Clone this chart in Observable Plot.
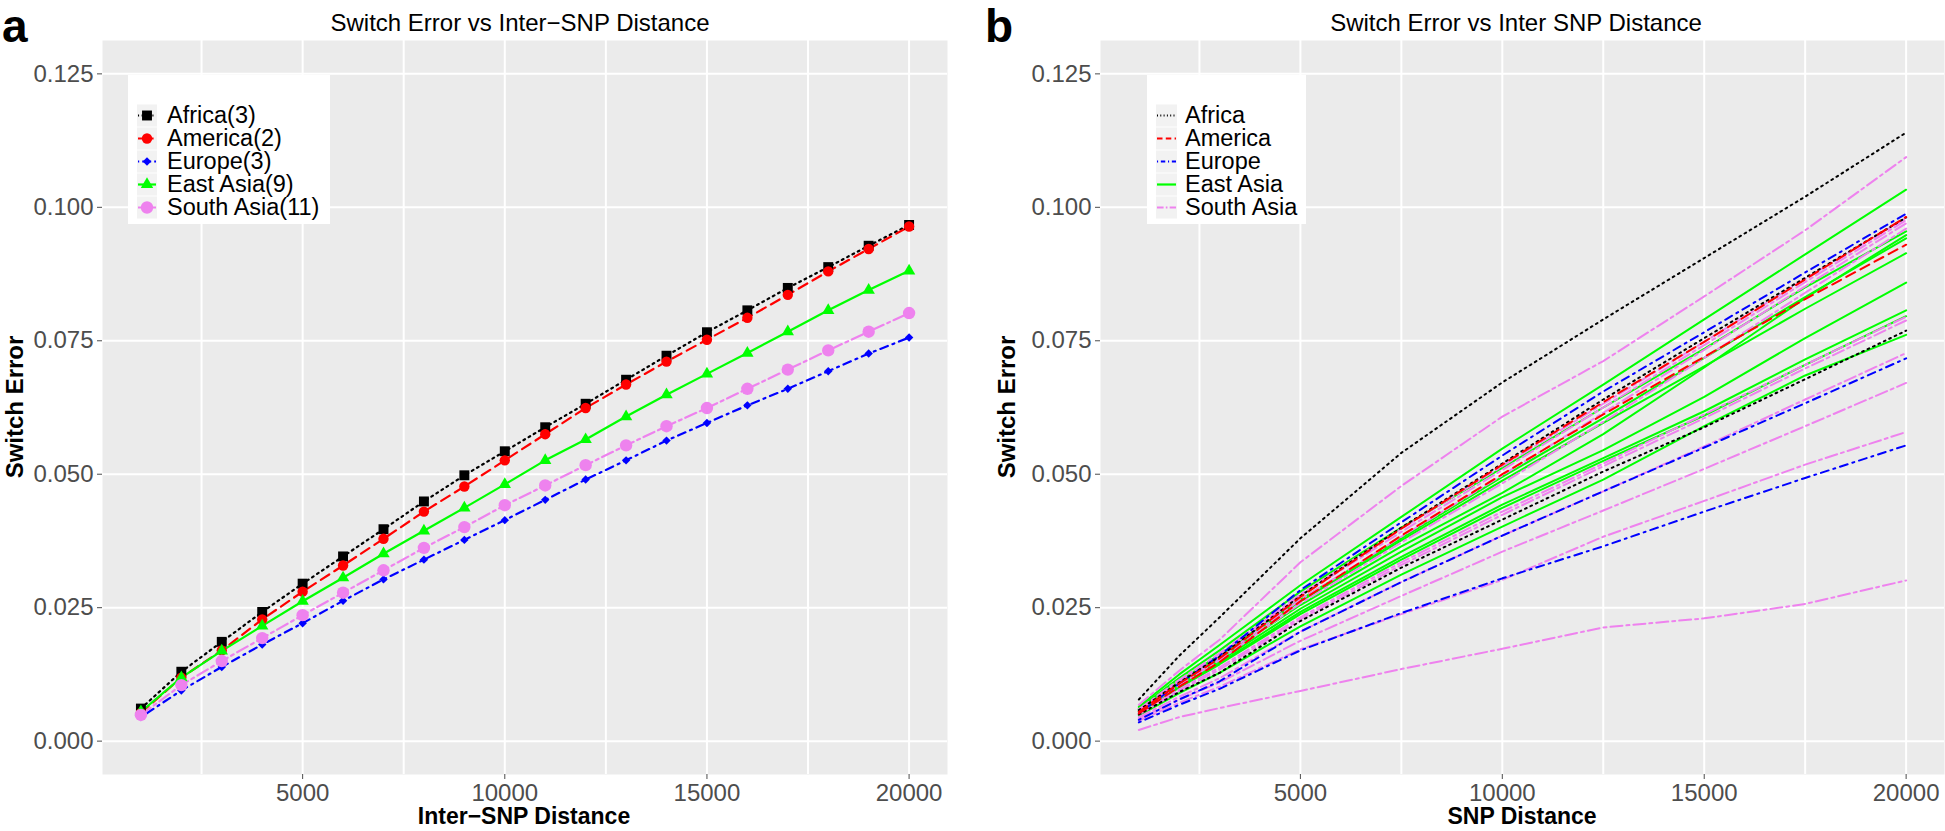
<!DOCTYPE html>
<html><head><meta charset="utf-8">
<script src="https://cdn.jsdelivr.net/npm/d3@7"></script>
<script src="https://cdn.jsdelivr.net/npm/@observablehq/plot@0.6"></script>
<style>
body{margin:0;background:#fff;font-family:"Liberation Sans",Arial,sans-serif;}
#root{position:relative;width:1945px;height:831px;overflow:hidden;background:#fff;}
.abs{position:absolute;white-space:nowrap;line-height:1.15;}
.tag{font-weight:bold;font-size:46px;color:#000;}
.title{font-size:24px;color:#000;transform:translate(-50%,-50%);}
.xlab{font-size:23px;font-weight:bold;color:#000;transform:translate(-50%,-50%);}
.ylab{font-size:24px;font-weight:bold;color:#000;transform:translate(-50%,-50%) rotate(-90deg);}
.legend{position:absolute;background:#fff;}
.lrow{position:absolute;height:23px;display:flex;align-items:center;font-size:24px;color:#000;white-space:nowrap;}
</style>
</head><body>
<div id="root"></div>
<script>
// ---------- Data: panel a (mean switch error per region) ----------
const distA = [1000,2000,3000,4000,5000,6000,7000,8000,9000,10000,11000,12000,13000,14000,15000,16000,17000,18000,19000,20000];
const africaA    = [0.0061,0.0130,0.0186,0.0242,0.0295,0.0346,0.0397,0.0449,0.0498,0.0543,0.0588,0.0632,0.0677,0.0722,0.0766,0.0807,0.0849,0.0888,0.0928,0.0967];
const americaA   = [0.0053,0.0119,0.0170,0.0228,0.0280,0.0329,0.0379,0.0430,0.0477,0.0526,0.0575,0.0624,0.0668,0.0711,0.0752,0.0793,0.0836,0.0880,0.0922,0.0964];
const europeA    = [0.0045,0.0095,0.0139,0.0181,0.0221,0.0263,0.0303,0.0340,0.0377,0.0414,0.0452,0.0490,0.0526,0.0563,0.0596,0.0629,0.0660,0.0693,0.0726,0.0756];
const eastAsiaA  = [0.0055,0.0119,0.0169,0.0216,0.0262,0.0306,0.0351,0.0394,0.0437,0.0481,0.0526,0.0565,0.0608,0.0649,0.0688,0.0727,0.0767,0.0807,0.0845,0.0881];
const southAsiaA = [0.0049,0.0105,0.0150,0.0193,0.0236,0.0278,0.0320,0.0362,0.0401,0.0442,0.0479,0.0517,0.0554,0.0590,0.0624,0.0660,0.0696,0.0732,0.0767,0.0802];
const legendA = ["Africa(3)","America(2)","Europe(3)","East Asia(9)","South Asia(11)"];

// ---------- Data: panel b (one line per population) ----------
const distB = [1000,2000,3000,5000,7500,10000,12500,15000,17500,20000];
const africaB = [
 [0.0078,0.0160,0.0232,0.0380,0.0540,0.0672,0.0790,0.0905,0.1020,0.1140],
 [0.0058,0.0110,0.0158,0.0272,0.0400,0.0520,0.0640,0.0755,0.0868,0.0981],
 [0.0050,0.0092,0.0128,0.0225,0.0325,0.0415,0.0505,0.0588,0.0678,0.0769]
];
const americaB = [
 [0.0055,0.0108,0.0155,0.0270,0.0398,0.0518,0.0635,0.0748,0.0865,0.0982],
 [0.0052,0.0102,0.0148,0.0262,0.0385,0.0500,0.0612,0.0720,0.0828,0.0930]
];
const europeB = [
 [0.0052,0.0108,0.0160,0.0283,0.0410,0.0535,0.0655,0.0766,0.0878,0.0988],
 [0.0040,0.0078,0.0112,0.0205,0.0298,0.0385,0.0468,0.0550,0.0633,0.0717],
 [0.0035,0.0068,0.0098,0.0170,0.0240,0.0305,0.0365,0.0430,0.0493,0.0554]
];
const eastAsiaB = [
 [0.0065,0.0125,0.0180,0.0292,0.0420,0.0548,0.0668,0.0790,0.0912,0.1033],
 [0.0062,0.0118,0.0170,0.0280,0.0400,0.0512,0.0625,0.0735,0.0850,0.0955],
 [0.0058,0.0108,0.0155,0.0255,0.0365,0.0465,0.0575,0.0700,0.0830,0.0948],
 [0.0060,0.0112,0.0162,0.0265,0.0380,0.0495,0.0605,0.0718,0.0832,0.0942],
 [0.0058,0.0110,0.0160,0.0262,0.0376,0.0488,0.0596,0.0702,0.0810,0.0914],
 [0.0056,0.0105,0.0150,0.0248,0.0355,0.0457,0.0545,0.0645,0.0755,0.0859],
 [0.0055,0.0102,0.0146,0.0242,0.0345,0.0443,0.0530,0.0618,0.0715,0.0807],
 [0.0054,0.0100,0.0144,0.0238,0.0340,0.0437,0.0525,0.0610,0.0705,0.0796],
 [0.0048,0.0090,0.0128,0.0215,0.0312,0.0402,0.0490,0.0590,0.0685,0.0761]
];
const southAsiaB = [
 [0.0068,0.0132,0.0190,0.0335,0.0478,0.0608,0.0712,0.0833,0.0957,0.1094],
 [0.0060,0.0115,0.0165,0.0275,0.0398,0.0515,0.0632,0.0748,0.0866,0.0980],
 [0.0058,0.0112,0.0162,0.0272,0.0392,0.0508,0.0625,0.0742,0.0860,0.0976],
 [0.0056,0.0108,0.0156,0.0265,0.0383,0.0498,0.0615,0.0733,0.0852,0.0970],
 [0.0055,0.0105,0.0152,0.0258,0.0372,0.0483,0.0598,0.0718,0.0840,0.0960],
 [0.0052,0.0097,0.0138,0.0232,0.0335,0.0430,0.0520,0.0612,0.0705,0.0795],
 [0.0050,0.0094,0.0134,0.0228,0.0330,0.0424,0.0515,0.0605,0.0698,0.0788],
 [0.0045,0.0083,0.0118,0.0205,0.0298,0.0385,0.0468,0.0552,0.0640,0.0727],
 [0.0042,0.0078,0.0110,0.0188,0.0272,0.0355,0.0432,0.0510,0.0590,0.0671],
 [0.0038,0.0072,0.0102,0.0172,0.0238,0.0302,0.0383,0.0450,0.0518,0.0579],
 [0.0021,0.0045,0.0062,0.0094,0.0135,0.0173,0.0213,0.0230,0.0257,0.0301]
];
const legendB = ["Africa","America","Europe","East Asia","South Asia"];

const yTicks = [0,0.025,0.05,0.075,0.1,0.125];
const xTicks = [5000,10000,15000,20000];
const xGrid = [2500,5000,7500,10000,12500,15000,17500,20000];

// ---------- Styles ----------
const sty = {
  africa:   {color:"#000000", dashA:"1.8,4.2", dashB:"1.8,4.2", symbol:"square", r:5.6},
  america:  {color:"#FF0000", dashA:"10,6",   dashB:"10,6",   symbol:"circle", r:5.2},
  europe:   {color:"#0000FF", dashA:"2,5,8,5", dashB:"2,5,8,5", symbol:"diamond2", r:3.8},
  eastAsia: {color:"#00FF00", dashA:null,     dashB:null,     symbol:"triangle", r:4.6},
  southAsia:{color:"#EE82EE", dashA:"12,4,3,4", dashB:"12,4,3,4", symbol:"circle", r:6.2}
};
const keysOrder = ["africa","america","europe","eastAsia","southAsia"];

const toRows = (xs, ys, id) => xs.map((x,i)=>({x, y: ys[i], id}));

const root = document.getElementById("root");
function addDiv(cls, text, left, top) {
  const d = document.createElement("div");
  d.className = "abs " + cls;
  d.textContent = text;
  d.style.left = left + "px"; d.style.top = top + "px";
  root.appendChild(d);
  return d;
}

const font = '"Liberation Sans", Arial, sans-serif';
function basePlot(width, marginLeft, marginRight, marks) {
  return Plot.plot({
    width, height: 831,
    marginLeft, marginRight, marginTop: 40, marginBottom: 57,
    style: {background:"transparent", fontFamily: font, fontSize:"24px", color:"#4d4d4d", overflow:"visible"},
    x: {domain:[50,20950], label:null},
    y: {domain:[-0.00625,0.13125], label:null},
    marks: [
      Plot.frame({fill:"#EBEBEB", stroke:"none"}),
      Plot.gridX({ticks: xGrid, stroke:"white", strokeOpacity:1, strokeWidth:2}),
      Plot.gridY({ticks: yTicks, stroke:"white", strokeOpacity:1, strokeWidth:2}),
      ...marks,
      Plot.axisX({ticks: xTicks, tickFormat: d => String(d), tickSize:5, tickPadding:4, fontSize:24, label:null}),
      Plot.axisY({ticks: yTicks, tickFormat: d3.format(".3f"), tickSize:5, tickPadding:4, fontSize:24, label:null})
    ]
  });
}

// ---------- Panel a ----------
const seriesA = {africa: africaA, america: americaA, europe: europeA, eastAsia: eastAsiaA, southAsia: southAsiaA};
const lineMarksA = keysOrder.map(k => Plot.line(toRows(distA, seriesA[k], k),
  {x:"x", y:"y", stroke: sty[k].color, strokeWidth:2.2, strokeDasharray: sty[k].dashA}));
const dotMarksA = keysOrder.map(k => Plot.dot(toRows(distA, seriesA[k], k),
  {x:"x", y:"y", symbol: sty[k].symbol, r: sty[k].r, fill: sty[k].color, stroke:"none"}));
const plotA = basePlot(975, 102, 28, [...lineMarksA, ...dotMarksA]);
plotA.style.position = "absolute"; plotA.style.left = "0px"; plotA.style.top = "0px";
root.appendChild(plotA);

// ---------- Panel b ----------
const seriesB = {eastAsia: eastAsiaB, southAsia: southAsiaB, europe: europeB, africa: africaB, america: americaB};
const drawOrderB = ["eastAsia","southAsia","europe","africa","america"];
const lineMarksB = drawOrderB.map(k => Plot.line(
  seriesB[k].flatMap((ys, j) => toRows(distB, ys, k + j)),
  {x:"x", y:"y", z:"id", stroke: sty[k].color, strokeWidth:2, strokeDasharray: sty[k].dashB}));
const plotB = basePlot(970, 125, 1, lineMarksB);
plotB.style.position = "absolute"; plotB.style.left = "975px"; plotB.style.top = "0px";
root.appendChild(plotB);

// ---------- Texts ----------
addDiv("tag", "a", 2, 0);
addDiv("tag", "b", 985, 0);
addDiv("title", "Switch Error vs Inter\u2212SNP Distance", 520, 23);
addDiv("title", "Switch Error vs Inter SNP Distance", 1516, 23);
addDiv("xlab", "Inter\u2212SNP Distance", 524, 816);
addDiv("xlab", "SNP Distance", 1522, 816);
addDiv("ylab", "Switch Error", 15, 407);
addDiv("ylab", "Switch Error", 1007, 407);

// ---------- Legends ----------
function legend(left, width, labels, withPoints, keyW, textOff) {
  const box = document.createElement("div");
  box.className = "legend";
  Object.assign(box.style, {left: left+"px", top:"75px", width: width+"px", height:"149px"});
  labels.forEach((lab, i) => {
    const k = keysOrder[i], s = sty[k];
    const row = document.createElement("div");
    row.className = "lrow";
    Object.assign(row.style, {left:"9px", top: (28.5 + i*23) + "px"});
    const ns = "http://www.w3.org/2000/svg";
    const svg = document.createElementNS(ns, "svg");
    svg.setAttribute("width", keyW); svg.setAttribute("height", 23);
    svg.style.display = "block";
    const rect = document.createElementNS(ns, "rect");
    rect.setAttribute("x",0); rect.setAttribute("y",0.5); rect.setAttribute("width",keyW); rect.setAttribute("height",22);
    rect.setAttribute("fill","#F2F2F2");
    svg.appendChild(rect);
    const ln = document.createElementNS(ns, "line");
    ln.setAttribute("x1",1); ln.setAttribute("x2",keyW-1); ln.setAttribute("y1",11.5); ln.setAttribute("y2",11.5);
    ln.setAttribute("stroke", s.color); ln.setAttribute("stroke-width", 2.2);
    const dash = withPoints ? s.dashA : s.dashB;
    if (dash) ln.setAttribute("stroke-dasharray", withPoints ? dash.split(",").map(v=>v*0.6).join(",") : dash.split(",").map(v=>v*0.55).join(","));
    svg.appendChild(ln);
    if (withPoints) {
      const p = document.createElementNS(ns, "path");
      p.setAttribute("d", d3.symbol(
        {square:d3.symbolSquare, circle:d3.symbolCircle, diamond2:d3.symbolDiamond2, triangle:d3.symbolTriangle}[s.symbol],
        Math.PI*s.r*s.r)());
      p.setAttribute("transform", `translate(${keyW/2},11.5)`);
      p.setAttribute("fill", s.color);
      svg.appendChild(p);
    }
    row.appendChild(svg);
    const t = document.createElement("span");
    t.textContent = lab;
    t.style.marginLeft = (textOff - keyW) + "px";
    t.style.fontSize = "23.5px";
    row.appendChild(t);
    box.appendChild(row);
  });
  root.appendChild(box);
}
legend(128, 202, legendA, true, 20, 30);
legend(1147, 159, legendB, false, 21, 29);
</script>
</body></html>
